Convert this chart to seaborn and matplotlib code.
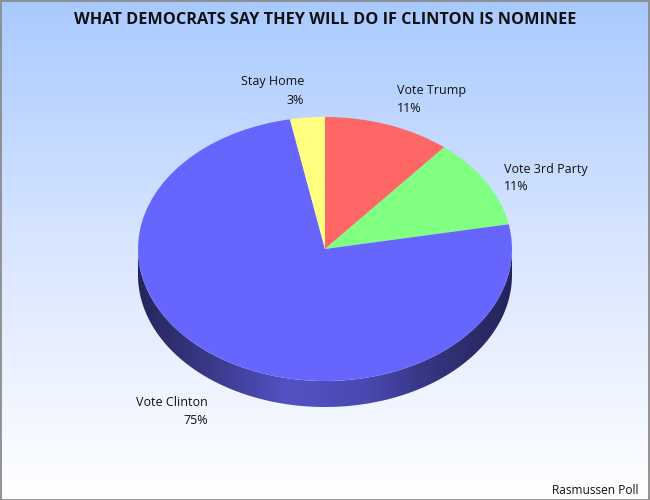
import matplotlib
matplotlib.use("Agg")
import matplotlib.pyplot as plt
import numpy as np
import seaborn as sns
from matplotlib.colors import LinearSegmentedColormap
from matplotlib.patches import Polygon, Rectangle

# data (clockwise from 12 o'clock)
answers = ["Vote Trump", "Vote 3rd Party", "Vote Clinton", "Stay Home"]
shares = [11, 11, 75, 3]
slice_colors = ["#ff6666", "#80ff80", "#6666ff", "#ffff80"]

sns.set_style("white")
plt.rcParams["font.family"] = ["Open Sans", "DejaVu Sans"]

W, H = 650, 500
fig = plt.figure(figsize=(W / 100, H / 100), dpi=100)

# background gradient
bg = fig.add_axes([0, 0, 1, 1])
grad = np.linspace(0, 1, 256).reshape(-1, 1)
bg_cmap = LinearSegmentedColormap.from_list("bg", ["#a9caff", "#d9e6ff", "#ffffff"])
bg.imshow(grad, cmap=bg_cmap, aspect="auto", extent=[0, 1, 0, 1], origin="upper")
bg.set_xlim(0, 1)
bg.set_ylim(0, 1)
bg.axis("off")
bg.add_patch(Rectangle((0.001, 0.001), 0.997, 0.997, fill=False, ec="#8a8a8a", lw=1.3,
                       transform=bg.transAxes))

# pie axes, placed in pixels: ellipse box 138..512 x 117..381
cx, cy, rx, ry, depth = 325, 249, 187, 132, 26
m = 1.05
d = depth / ry
left = cx - rx * m
width = 2 * rx * m
top = cy - ry * m
bottom = cy + ry + depth + 8
ax = fig.add_axes([left / W, 1 - bottom / H, width / W, (bottom - top) / H])

# side wall with horizontal shading
t = np.linspace(np.pi, 2 * np.pi, 200)
upper = np.column_stack([np.cos(t), np.sin(t)])
lower = np.column_stack([np.cos(t[::-1]), np.sin(t[::-1]) - d])
side = Polygon(np.vstack([upper, lower]), closed=True, fc="none", ec="none")
ax.add_patch(side)
side_cmap = LinearSegmentedColormap.from_list(
    "side", ["#26265a", "#3a3a8c", "#5252c4", "#4a4ab4", "#33337c", "#24245a"])
sh = ax.imshow(np.linspace(0, 1, 256).reshape(1, -1), cmap=side_cmap, aspect="auto",
               extent=[-1, 1, -1 - d, 0.05], zorder=1)
sh.set_clip_path(side)

wedges, _ = ax.pie(shares, colors=slice_colors, startangle=90, counterclock=False,
                   radius=1, wedgeprops=dict(linewidth=0, antialiased=True))
for w in wedges:
    w.set_zorder(2)

ax.set_aspect("auto")
ax.set_xlim(-m, m)
ax.set_ylim(-(ry + depth + 8) / ry, m)
ax.axis("off")

# labels
txt = dict(fontsize=9, color="#111111", va="center")
label_pos = {
    "Stay Home": (304, 82, "right"),
    "Vote Trump": (397, 91, "left"),
    "Vote 3rd Party": (504, 169, "left"),
    "Vote Clinton": (208, 403, "right"),
}
for name, val in zip(answers, shares):
    x, y, ha = label_pos[name]
    fig.text(x / W, 1 - y / H, name, ha=ha, **txt)
    fig.text(x / W, 1 - (y + 18) / H, f"{val}%", ha=ha, **txt)

fig.text(0.5, 1 - 20 / H, "WHAT DEMOCRATS SAY THEY WILL DO IF CLINTON IS NOMINEE",
         ha="center", va="center", fontsize=11.7, fontweight="bold", color="#111111")
fig.text(639 / W, 1 - 491 / H, "Rasmussen Poll", ha="right", va="center",
         fontsize=8.6, color="#111111")

fig.savefig("out.png", dpi=100)
